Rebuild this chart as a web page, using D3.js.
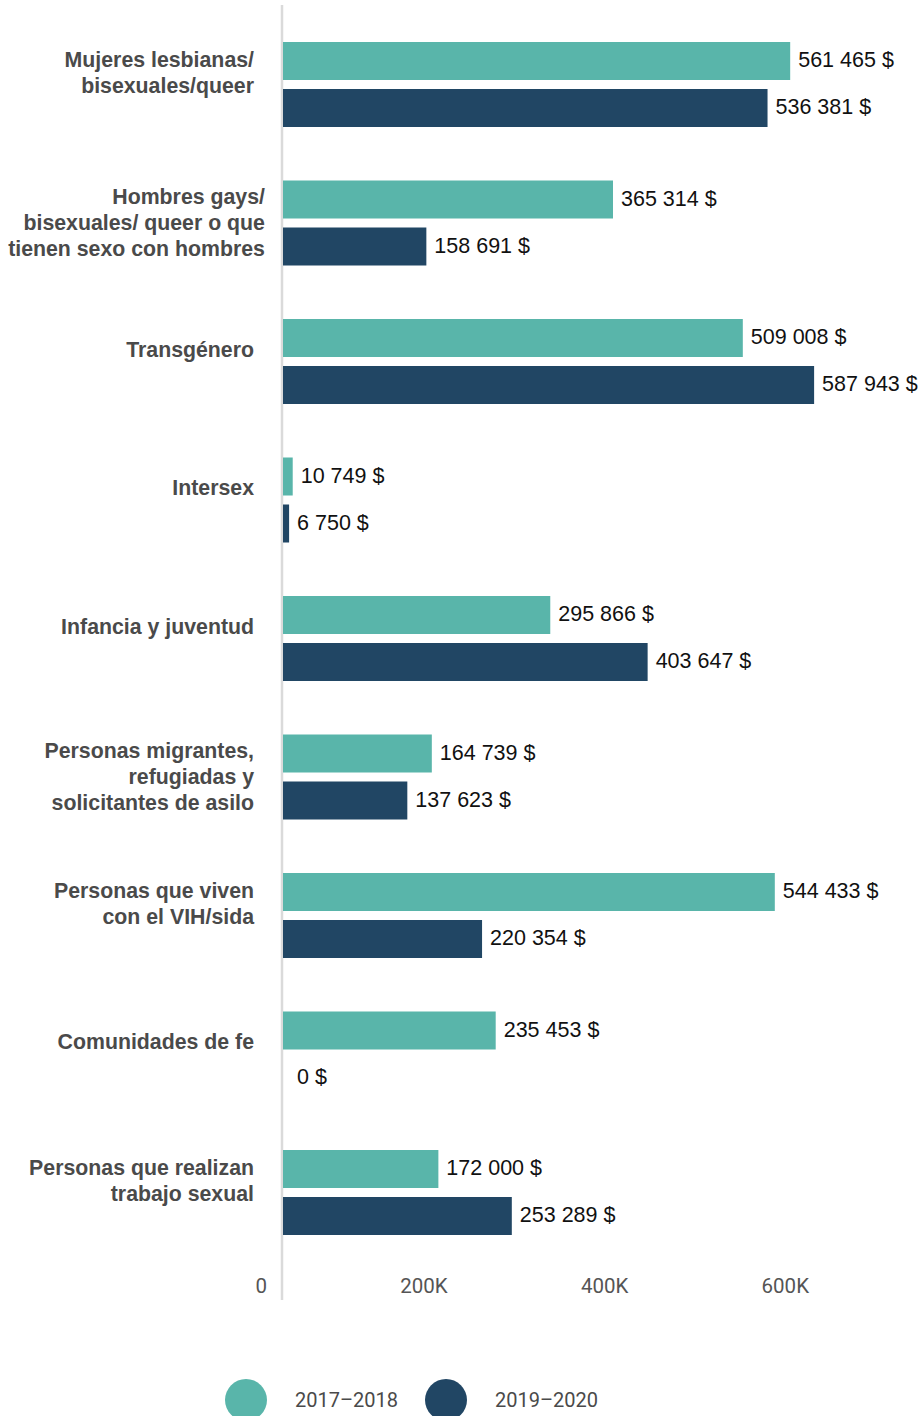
<!DOCTYPE html>
<html><head><meta charset="utf-8">
<script src="https://cdn.jsdelivr.net/npm/d3@7/dist/d3.min.js"></script>
<style>
html,body{margin:0;padding:0;background:#fff;}
svg{display:block;}
</style></head>
<body>
<svg id="chart" width="922" height="1416"></svg>
<script>
const categories = [
  "Mujeres lesbianas/\nbisexuales/queer",
  "Hombres gays/\nbisexuales/ queer o que\ntienen sexo con hombres",
  "Transgénero",
  "Intersex",
  "Infancia y juventud",
  "Personas migrantes,\nrefugiadas y\nsolicitantes de asilo",
  "Personas que viven\ncon el VIH/sida",
  "Comunidades de fe",
  "Personas que realizan\ntrabajo sexual"
];
const series = ["2017–2018", "2019–2020"];
const values2017 = [561465, 365314, 509008, 10749, 295866, 164739, 544433, 235453, 172000];
const values2019 = [536381, 158691, 587943, 6750, 403647, 137623, 220354, 0, 253289];
const tickValues = [0, 200000, 400000, 600000];
const tickLabels = ["0", "200K", "400K", "600K"];
const colors = ["#59b5aa", "#214664"];

const svg = d3.select("#chart");
const x = d3.scaleLinear().domain([0, 600000]).range([283, 825]);
const yGroup = d3.scaleBand().domain(categories).range([42, 42 + 9 * 138.5]).paddingInner(0).paddingOuter(0);
const yInner = d3.scaleBand().domain(series).range([0, 85]).paddingInner(9 / 47).paddingOuter(0);

const fmt = v => d3.format(",")(v).replace(/,/g, " ") + " $";

// axis line
svg.append("line").attr("x1", 282).attr("x2", 282).attr("y1", 5).attr("y2", 1300)
  .attr("stroke", "#dadada").attr("stroke-width", 2.5);

const data = [];
categories.forEach((c, i) => {
  data.push({cat: c, s: series[0], v: values2017[i], col: colors[0]});
  data.push({cat: c, s: series[1], v: values2019[i], col: colors[1]});
});

svg.append("g").selectAll("rect").data(data).join("rect")
  .attr("x", x(0))
  .attr("y", d => yGroup(d.cat) + yInner(d.s))
  .attr("width", d => x(d.v) - x(0))
  .attr("height", yInner.bandwidth())
  .attr("fill", d => d.col);

svg.append("g").selectAll("text").data(data).join("text")
  .attr("x", d => Math.max(x(d.v) + 8, 297))
  .attr("y", d => yGroup(d.cat) + yInner(d.s) + yInner.bandwidth() / 2 + 6)
  .attr("font-family", "Liberation Sans, Arial, sans-serif")
  .attr("font-size", 21.5)
  .attr("fill", "#111")
  .text(d => fmt(d.v));

// category labels
const lab = svg.append("g");
categories.forEach(c => {
  const lines = c.split("\n");
  const n = lines.length;
  const center = yGroup(c) + 42.5 + (n === 3 ? 0 : -12);
  const t = lab.append("text")
    .attr("font-family", "Liberation Sans, Arial, sans-serif")
    .attr("font-weight", "bold")
    .attr("font-size", 21.3)
    .attr("fill", "#4a4a4a")
    .attr("text-anchor", "end");
  lines.forEach((l, j) => {
    t.append("tspan").attr("x", 254).attr("y", center - (n - 1) * 13 + j * 26 + 7).text(l);
  });
  const w = t.node().getBBox().width;
  const xe = Math.max(254, 8 + w);
  t.selectAll("tspan").attr("x", xe);
});

// tick labels
svg.append("g").selectAll("text").data(tickValues).join("text")
  .attr("x", d => x(d) - 16)
  .attr("y", 1293)
  .attr("text-anchor", "end")
  .attr("font-family", "Roboto, sans-serif")
  .attr("font-size", 20.5)
  .attr("fill", "#555")
  .text((d, i) => tickLabels[i]);

// legend
const legX = [246, 446];
series.forEach((s, i) => {
  svg.append("circle").attr("cx", legX[i]).attr("cy", 1400).attr("r", 21).attr("fill", colors[i]);
  svg.append("text").attr("x", legX[i] + 49).attr("y", 1407)
    .attr("font-family", "Roboto, sans-serif").attr("font-size", 20).attr("fill", "#4a4a4a")
    .text(s);
});
</script>
</body></html>
